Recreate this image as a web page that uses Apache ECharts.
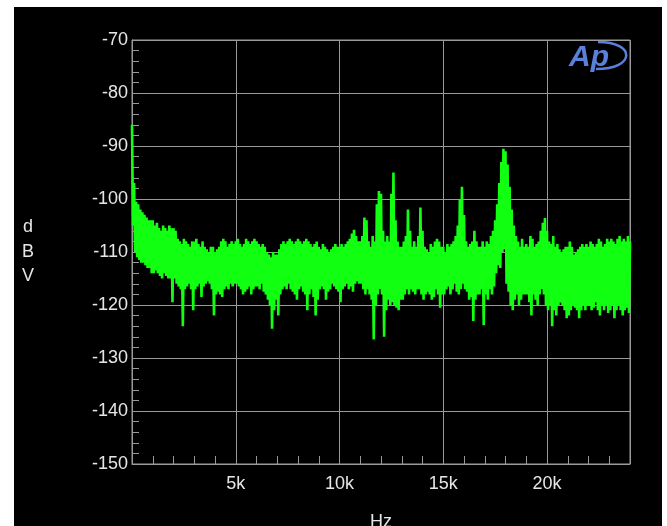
<!DOCTYPE html>
<html>
<head>
<meta charset="utf-8">
<script src="https://cdn.jsdelivr.net/npm/echarts@6/dist/echarts.min.js"></script>
<style>
    body { margin: 0; background: #fff; }
    #chart { position: absolute; left: 14px; top: 7px; width: 648px; height: 519px; background: #000; }
</style>
</head>
<body>
<div id="chart"></div>
<script>
// FFT bins, 100 Hz apart, 0 .. 24 kHz
var binHz = 100;

// upper edge of the trace in each bin (dBV)
var hiDb = [
    -86, -97, -100.5, -101, -102, -102.5, -103, -103.5, -104, -104,
    -104, -105, -104.5, -105.5, -106, -105, -105.5, -106, -105, -105.5,
    -105.5, -106, -107.5, -108, -108.5, -107.5, -108, -108.5, -109, -108,
    -108, -107.5, -108.5, -109, -108, -109, -109.5, -110, -109, -109,
    -110, -109.5, -109, -108, -107.5, -108, -109, -108.5, -108, -108.5,
    -108, -107.5, -108.5, -109, -108.5, -107.5, -108, -108.5, -108, -107.5,
    -108, -108.5, -109, -108.5, -109, -110, -110.5, -111, -110, -110.5,
    -110.5, -109.5, -108.5, -108, -108.5, -108, -107.5, -108, -108.5, -108,
    -107.5, -108, -108.5, -108, -107.5, -108, -108.5, -109, -108.5, -108,
    -109, -109.5, -108.5, -109, -109.5, -110, -109.5, -109, -108.5, -109,
    -109, -108.5, -109, -108.5, -108, -107.5, -106.5, -105.8, -107, -108,
    -108, -107, -103.5, -104, -108, -109, -107, -108, -101, -98.5,
    -99, -106, -108, -107, -108, -99, -95, -104, -108, -109,
    -109, -108, -107, -102, -106, -109, -108, -109, -107, -101.6,
    -106, -109, -109.5, -110, -108.5, -109, -108, -107.5, -108, -109,
    -109, -110, -108.5, -109, -108.5, -108, -107, -105, -100, -97.7,
    -103, -108, -109, -108.5, -108, -106, -108, -109, -109, -108,
    -109, -108, -108.5, -107, -106, -104, -101, -97, -93, -90.5,
    -91, -93.5, -97.7, -102, -105, -107, -108, -109, -107.5, -109,
    -108.5, -109, -107, -107.5, -109, -108.5, -108, -106, -104.5, -103.6,
    -106, -108, -108.5, -107, -109, -108.5, -109.5, -110, -109.5, -109,
    -109, -108, -109, -110.5, -110, -109.5, -109, -108.5, -109, -108.5,
    -109, -108, -108.5, -109, -108.5, -107.5, -108, -109, -108.5, -107.5,
    -108, -107.5, -108, -108.5, -107.5, -107, -108, -107.5, -108, -107,
    -108
];

// lower edge of the trace in each bin (dBV)
var loDb = [
    -105, -110, -111, -111.5, -112, -112, -112.5, -113, -113, -114,
    -114, -113.5, -114, -114.5, -115, -114, -114.5, -115, -115, -119.5,
    -115, -116, -116.5, -117, -124, -117, -116.5, -116, -117, -121,
    -117, -116.5, -116, -118.5, -116.5, -116, -115.5, -116, -117, -122,
    -118, -117.5, -118, -118.5, -117, -116.5, -117, -116, -116.5, -116,
    -116, -116.5, -117, -118, -117.5, -117, -116.5, -118, -117, -116.5,
    -116.5, -117, -116, -117.5, -118, -119, -120, -124.5, -121, -119,
    -122, -118, -117, -116.5, -117, -116, -117, -117.5, -118, -119,
    -117, -116.5, -117.5, -118, -121, -118, -117, -118.5, -122, -119,
    -117, -116.5, -117, -119, -117.5, -117, -116, -116.5, -117, -117.5,
    -119.5, -117, -116.5, -116, -117, -116.5, -117.5, -116, -115.5, -116,
    -116, -117, -118, -117, -118, -119, -126.5, -120, -118, -117,
    -118, -126, -121, -119, -120, -119.5, -120, -120.5, -121, -119,
    -119, -118, -117, -118, -117, -117.5, -118, -117, -117, -118,
    -119, -118, -117.5, -118, -119, -118.5, -117, -118, -120.5, -118,
    -118, -117, -116.5, -118, -117, -116, -117.5, -118, -117, -116,
    -117, -117.5, -119, -118.5, -123, -119, -118, -118, -117, -123.8,
    -118, -119, -117, -118, -116.5, -114, -112.5, -113, -110, -109.5,
    -116, -117.5, -120, -121, -119, -118, -120, -119, -118, -118,
    -118, -119.5, -122, -118, -119, -120, -118, -117, -118, -120,
    -121, -120, -124, -121, -122, -120, -119.5, -120, -121, -122.5,
    -122, -121, -120, -120.5, -121, -122.5, -121, -120, -121, -120,
    -120, -121, -120.5, -119.5, -121, -122, -120, -121, -120, -121.5,
    -121, -120, -122.5, -121, -120, -121, -122, -121, -120.5, -121.5,
    -120
];

var yMin = -150, yMax = -70, yStep = 10;
var xMax = 24000, xStep = 5000, xMinorStep = 1000;

window.addEventListener('load', function () {
    var chart = echarts.init(document.getElementById('chart'));

    // the trace swings between the upper and lower edge inside each bin
    var trace = [];
    for (var i = 0; i < hiDb.length; i++) {
        trace.push([i * binHz, hiDb[i]]);
        if (i * binHz + binHz / 2 <= xMax) {
            trace.push([i * binHz + binHz / 2, loDb[i]]);
        }
    }

    var gridColor = '#9a9a9a';
    var textColor = '#e6e6e6';
    var font = 'Liberation Sans';
    var logoBlue = '#5a80dc';

    var option = {
        animation: false,
        backgroundColor: '#000',
        grid: {
            left: 118, top: 33, right: 32, bottom: 62,
            containLabel: false,
            outerBoundsMode: 'none',
            show: true, borderColor: gridColor, borderWidth: 1
        },
        xAxis: [
            {
                type: 'value',
                min: 0, max: xMax, interval: xStep,
                name: 'Hz', nameLocation: 'middle', nameGap: 49,
                nameTextStyle: { color: textColor, fontSize: 18, fontFamily: font },
                axisLine: { show: true, lineStyle: { color: gridColor } },
                axisTick: { show: false },
                axisLabel: {
                    color: textColor, fontSize: 18, fontFamily: font, margin: 11,
                    formatter: function (v) {
                        if (v === 0 || v > 20000) return '';
                        return v / 1000 + 'k';
                    }
                },
                splitLine: { show: true, lineStyle: { color: gridColor, width: 1 } }
            },
            {
                // 1 kHz ticks along the bottom
                type: 'value', position: 'bottom',
                min: 0, max: xMax, interval: xMinorStep,
                axisLine: { show: false },
                axisTick: { show: true, inside: true, length: 8, lineStyle: { color: gridColor } },
                axisLabel: { show: false },
                splitLine: { show: false }
            }
        ],
        yAxis: {
            type: 'value',
            min: yMin, max: yMax, interval: yStep,
            axisLine: { show: true, lineStyle: { color: gridColor } },
            axisTick: { show: true, inside: true, length: 7, lineStyle: { color: gridColor } },
            minorTick: { show: true, splitNumber: 5, length: 7, lineStyle: { color: gridColor } },
            axisLabel: { color: textColor, fontSize: 18, fontFamily: font, margin: 4 },
            splitLine: { show: true, lineStyle: { color: gridColor, width: 1 } }
        },
        graphic: [
            {
                type: 'text', x: 14, y: 245,
                style: {
                    text: 'd\nB\nV', fill: textColor, font: '18px ' + font,
                    lineHeight: 24.5, textAlign: 'center', textVerticalAlign: 'middle',
                    align: 'center', verticalAlign: 'middle'
                }
            },
            {
                type: 'text', x: 555, y: 51,
                style: {
                    text: 'Ap', fill: logoBlue, font: 'italic bold 30px ' + font,
                    textVerticalAlign: 'middle', verticalAlign: 'middle'
                }
            },
            {
                type: 'bezierCurve',
                shape: { x1: 584, y1: 35, cpx1: 622, cpy1: 35, cpx2: 622, cpy2: 62, x2: 582, y2: 62 },
                style: { stroke: logoBlue, lineWidth: 2.5, fill: null }
            }
        ],
        series: [
            {
                type: 'line',
                data: trace,
                showSymbol: false,
                lineStyle: { color: '#11ff11', width: 2.6 },
                clip: true
            }
        ]
    };
    chart.setOption(option);
});
</script>
</body>
</html>
